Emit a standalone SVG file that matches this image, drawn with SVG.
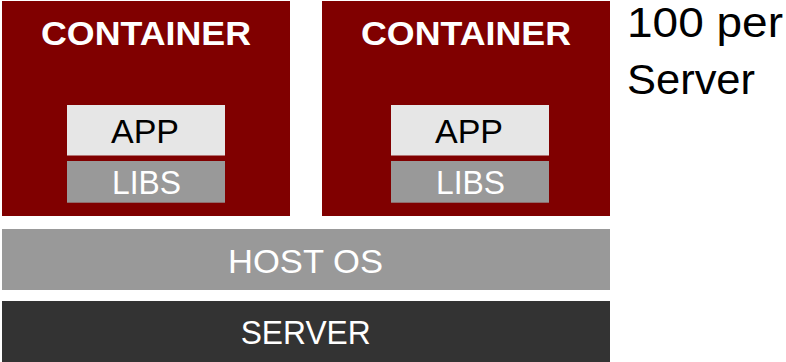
<svg xmlns="http://www.w3.org/2000/svg" width="786" height="362" viewBox="0 0 786 362">
<style>
text{font-family:"Liberation Sans",Arial,sans-serif;text-anchor:middle}
.ctr{fill:#800000}
.app{fill:#e6e6e6}
.libs{fill:#999999}
.host{fill:#999999}
.srv{fill:#333333}
.title{font-weight:bold;font-size:33.5px;fill:#ffffff}
.lbl{font-size:34px}
.dark{fill:#000000}
.light{fill:#ffffff}
.note{font-size:42px;fill:#000000;text-anchor:start}
</style>
<rect width="786" height="362" fill="#ffffff"/>
<g id="container1">
<rect class="ctr" x="2" y="1" width="288" height="215"/>
<text class="title" x="146" y="45" textLength="210" lengthAdjust="spacingAndGlyphs">CONTAINER</text>
<g id="app1">
<rect class="app" x="67" y="105" width="158" height="50.5"/>
<text class="lbl dark" x="145" y="143.3">APP</text>
</g>
<g id="libs1">
<rect class="libs" x="67" y="161" width="158" height="41.7"/>
<text class="lbl light" x="146.5" y="194.3" textLength="69" lengthAdjust="spacingAndGlyphs">LIBS</text>
</g>
</g>
<g id="container2">
<rect class="ctr" x="322" y="1" width="288" height="215"/>
<text class="title" x="466" y="45" textLength="210" lengthAdjust="spacingAndGlyphs">CONTAINER</text>
<g id="app2">
<rect class="app" x="391" y="105" width="158" height="50.5"/>
<text class="lbl dark" x="469" y="143.3">APP</text>
</g>
<g id="libs2">
<rect class="libs" x="391" y="161" width="158" height="41.7"/>
<text class="lbl light" x="470.5" y="194.3" textLength="69" lengthAdjust="spacingAndGlyphs">LIBS</text>
</g>
</g>
<g id="hostos">
<rect class="host" x="2" y="229" width="608" height="61"/>
<text class="lbl light" x="305.5" y="272.7" textLength="155" lengthAdjust="spacingAndGlyphs">HOST OS</text>
</g>
<g id="server">
<rect class="srv" x="2" y="301" width="608" height="61"/>
<text class="lbl light" x="305.7" y="344.3" textLength="130" lengthAdjust="spacingAndGlyphs">SERVER</text>
</g>
<g id="note">
<text class="note" x="627" y="37" textLength="156" lengthAdjust="spacingAndGlyphs">100 per</text>
<text class="note" x="627" y="94" textLength="128" lengthAdjust="spacingAndGlyphs">Server</text>
</g>
<g id="connectors"/>
</svg>
